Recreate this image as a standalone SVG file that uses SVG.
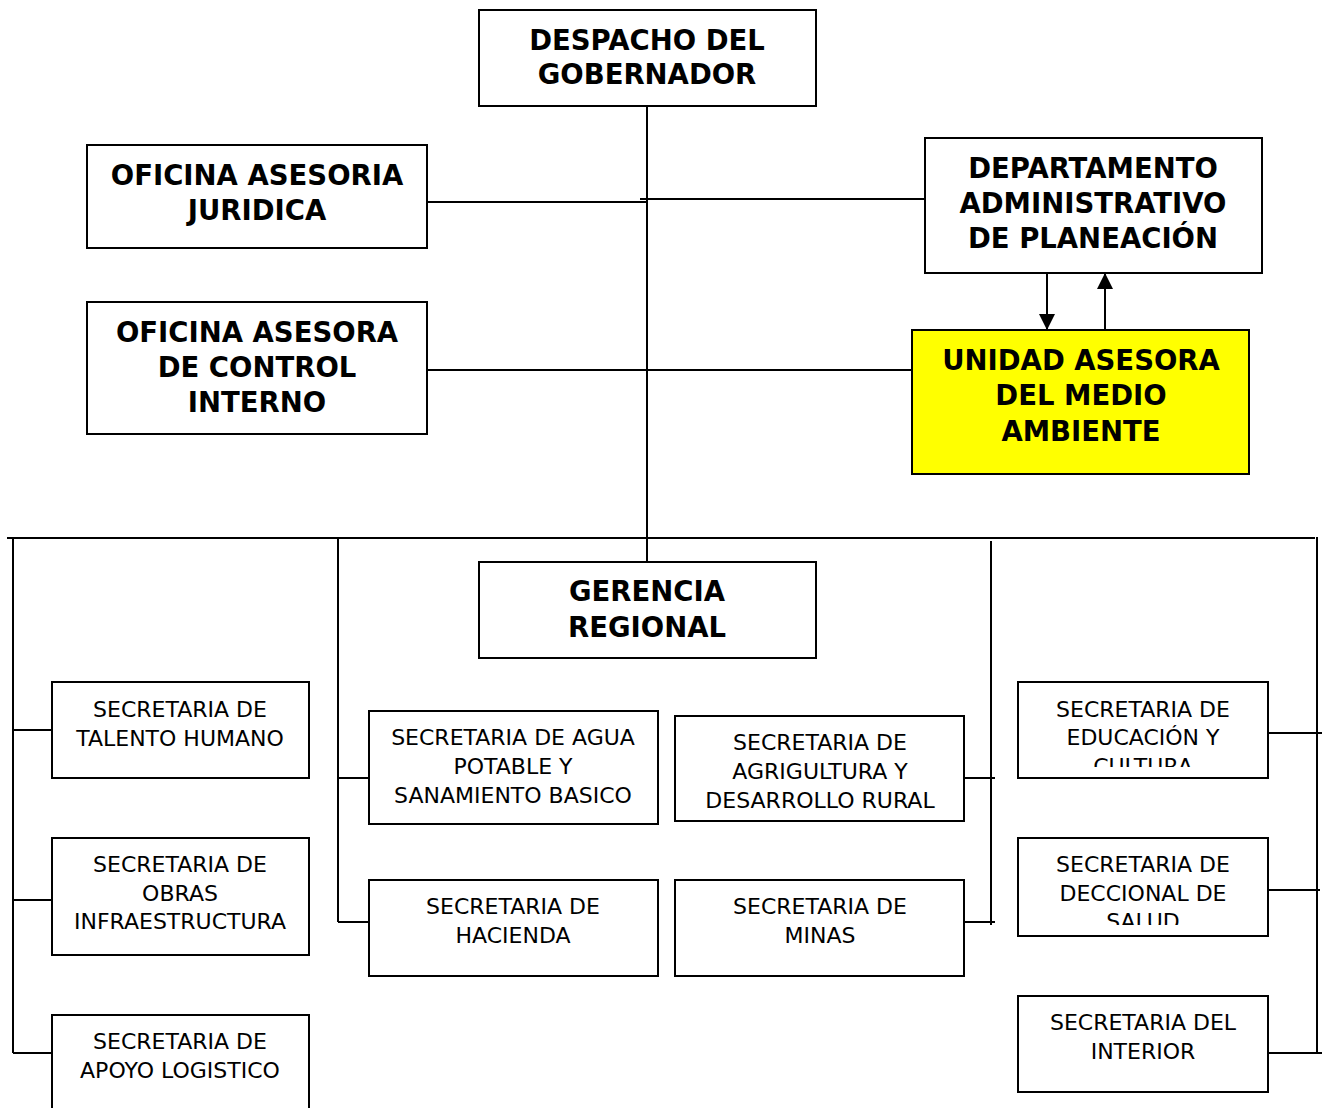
<svg xmlns="http://www.w3.org/2000/svg" width="1331" height="1108" viewBox="0 0 1331 1108">
<style>
.box{fill:#fff;stroke:#000;stroke-width:2}
.yel{fill:#ffff00;stroke:#000;stroke-width:2}
.b{font-family:"DejaVu Sans",sans-serif;font-weight:bold;font-size:27.5px;text-anchor:middle;fill:#000}
.r{font-family:"DejaVu Sans",sans-serif;font-size:22px;text-anchor:middle;fill:#000}
.c line{stroke:#000;stroke-width:2;fill:none}
</style>
<defs>
<marker id="ah2" markerWidth="16" markerHeight="16" refX="15" refY="8" orient="auto" markerUnits="userSpaceOnUse" viewBox="0 0 16 16">
<path d="M0,0 L16,8 L0,16 z" fill="#000"/>
</marker>
<clipPath id="clipEdu"><rect x="1018" y="682" width="250" height="85"/></clipPath>
<clipPath id="clipSal"><rect x="1018" y="838" width="250" height="87"/></clipPath>
</defs>
<rect width="1331" height="1108" fill="#fff"/>
<g class="c" id="connectors">
<line x1="647" y1="106" x2="647" y2="562"/>
<line x1="427" y1="202" x2="647" y2="202"/>
<line x1="640" y1="199" x2="925" y2="199"/>
<line x1="427" y1="370" x2="912" y2="370"/>
<line x1="1047" y1="273" x2="1047" y2="329" marker-end="url(#ah2)"/>
<line x1="1105" y1="330" x2="1105" y2="274" marker-end="url(#ah2)"/>
<line x1="7" y1="538" x2="1315" y2="538"/>
<line x1="13" y1="538" x2="13" y2="1053"/>
<line x1="13" y1="730" x2="52" y2="730"/>
<line x1="13" y1="900" x2="52" y2="900"/>
<line x1="13" y1="1053" x2="52" y2="1053"/>
<line x1="338" y1="538" x2="338" y2="922"/>
<line x1="338" y1="778" x2="369" y2="778"/>
<line x1="338" y1="922" x2="369" y2="922"/>
<line x1="991" y1="541" x2="991" y2="925"/>
<line x1="964" y1="778" x2="995" y2="778"/>
<line x1="964" y1="922" x2="995" y2="922"/>
<line x1="1317" y1="537" x2="1317" y2="1053"/>
<line x1="1268" y1="733" x2="1322" y2="733"/>
<line x1="1268" y1="890" x2="1320" y2="890"/>
<line x1="1268" y1="1053" x2="1322" y2="1053"/>
</g>
<g id="despacho"><rect class="box" x="479" y="10" width="337" height="96"/>
<text class="b" x="647" y="50">DESPACHO DEL</text><text class="b" x="647" y="84">GOBERNADOR</text></g>
<g id="juridica"><rect class="box" x="87" y="145" width="340" height="103"/>
<text class="b" x="257" y="185">OFICINA ASESORIA</text><text class="b" x="257" y="220">JURIDICA</text></g>
<g id="planeacion"><rect class="box" x="925" y="138" width="337" height="135"/>
<text class="b" x="1093" y="178">DEPARTAMENTO</text><text class="b" x="1093" y="213">ADMINISTRATIVO</text><text class="b" x="1093" y="248">DE PLANEACIÓN</text></g>
<g id="control"><rect class="box" x="87" y="302" width="340" height="132"/>
<text class="b" x="257" y="342">OFICINA ASESORA</text><text class="b" x="257" y="377">DE CONTROL</text><text class="b" x="257" y="412">INTERNO</text></g>
<g id="ambiente"><rect class="yel" x="912" y="330" width="337" height="144"/>
<text class="b" x="1081" y="370">UNIDAD ASESORA</text><text class="b" x="1081" y="405">DEL MEDIO</text><text class="b" x="1081" y="441">AMBIENTE</text></g>
<g id="gerencia"><rect class="box" x="479" y="562" width="337" height="96"/>
<text class="b" x="647" y="601">GERENCIA</text><text class="b" x="647" y="637">REGIONAL</text></g>
<g id="talento"><rect class="box" x="52" y="682" width="257" height="96"/>
<text class="r" x="180" y="717">SECRETARIA DE</text><text class="r" x="180" y="746">TALENTO HUMANO</text></g>
<g id="obras"><rect class="box" x="52" y="838" width="257" height="117"/>
<text class="r" x="180" y="872">SECRETARIA DE</text><text class="r" x="180" y="901">OBRAS</text><text class="r" x="180" y="929">INFRAESTRUCTURA</text></g>
<g id="apoyo"><rect class="box" x="52" y="1015" width="257" height="110"/>
<text class="r" x="180" y="1049">SECRETARIA DE</text><text class="r" x="180" y="1078">APOYO LOGISTICO</text></g>
<g id="agua"><rect class="box" x="369" y="711" width="289" height="113"/>
<text class="r" x="513" y="745">SECRETARIA DE AGUA</text><text class="r" x="513" y="774">POTABLE Y</text><text class="r" x="513" y="803">SANAMIENTO BASICO</text></g>
<g id="hacienda"><rect class="box" x="369" y="880" width="289" height="96"/>
<text class="r" x="513" y="914">SECRETARIA DE</text><text class="r" x="513" y="943">HACIENDA</text></g>
<g id="agricultura"><rect class="box" x="675" y="716" width="289" height="105"/>
<text class="r" x="820" y="750">SECRETARIA DE</text><text class="r" x="820" y="779">AGRIGULTURA Y</text><text class="r" x="820" y="808">DESARROLLO RURAL</text></g>
<g id="minas"><rect class="box" x="675" y="880" width="289" height="96"/>
<text class="r" x="820" y="914">SECRETARIA DE</text><text class="r" x="820" y="943">MINAS</text></g>
<g id="educacion"><rect class="box" x="1018" y="682" width="250" height="96"/>
<g clip-path="url(#clipEdu)"><text class="r" x="1143" y="717">SECRETARIA DE</text><text class="r" x="1143" y="745">EDUCACIÓN Y</text><text class="r" x="1143" y="774">CULTURA</text></g></g>
<g id="salud"><rect class="box" x="1018" y="838" width="250" height="98"/>
<g clip-path="url(#clipSal)"><text class="r" x="1143" y="872">SECRETARIA DE</text><text class="r" x="1143" y="901">DECCIONAL DE</text><text class="r" x="1143" y="929">SALUD</text></g></g>
<g id="interior"><rect class="box" x="1018" y="996" width="250" height="96"/>
<text class="r" x="1143" y="1030">SECRETARIA DEL</text><text class="r" x="1143" y="1059">INTERIOR</text></g>
</svg>
